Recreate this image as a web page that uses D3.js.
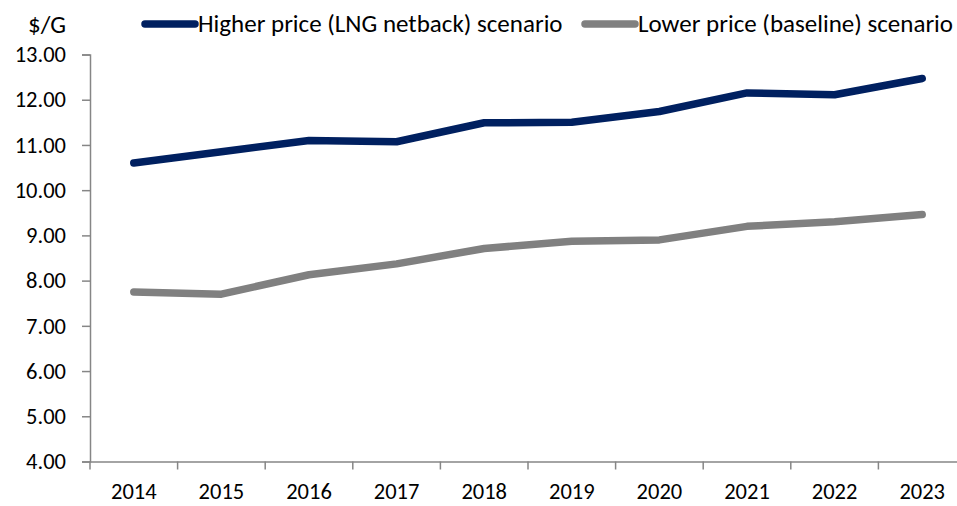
<!DOCTYPE html>
<html lang="en">
<head>
<meta charset="UTF-8">
<title>Price scenarios</title>
<script src="https://d3js.org/d3.v7.min.js"></script>
<style>
  body { margin: 0; background: #fff; }
</style>
</head>
<body>
<svg id="chart" width="957" height="506"></svg>
<script>
// data
var years = ['2014', '2015', '2016', '2017', '2018', '2019', '2020', '2021', '2022', '2023'];
var higher = [10.60, 10.85, 11.10, 11.07, 11.49, 11.50, 11.74, 12.15, 12.11, 12.47];
var lower = [7.75, 7.70, 8.13, 8.37, 8.71, 8.87, 8.90, 9.20, 9.30, 9.46];
var yTicks = [4, 5, 6, 7, 8, 9, 10, 11, 12, 13];
var seriesNames = ['Higher price (LNG netback) scenario', 'Lower price (baseline) scenario'];
var colors = ['#002060', '#808080'];

var font = 'Carlito, Lato, sans-serif';
var svg = d3.select('#chart');

// scales
var x = d3.scaleBand().domain(years).range([90, 966]);
var y = d3.scaleLinear().domain([4, 13]).range([461.5, 54.5]);

var axisColor = '#868686';

// y axis
var yAxis = d3.axisLeft(y).tickValues(yTicks).tickSize(8).tickPadding(16)
  .tickFormat(d3.format('.2f'));
var gy = svg.append('g').attr('transform', 'translate(90,0)').call(yAxis);
gy.select('.domain').attr('stroke', axisColor).attr('stroke-width', 1.5);
gy.selectAll('.tick line').attr('stroke', axisColor).attr('stroke-width', 1.5);
gy.selectAll('.tick text').attr('font-size', 22.5).attr('font-family', font).attr('fill', '#000');

// x axis, ticks on band edges
var xAxis = d3.axisBottom(x).tickSize(0).tickPadding(22);
var gx = svg.append('g').attr('transform', 'translate(0,461.5)').call(xAxis);
gx.select('.domain').attr('stroke', axisColor).attr('stroke-width', 1.5);
gx.selectAll('.tick text').attr('font-size', 22.5).attr('font-family', font).attr('fill', '#000');
gx.selectAll('.edge')
  .data(years)
  .enter()
  .append('line')
  .attr('x1', function (d) { return x(d); })
  .attr('x2', function (d) { return x(d); })
  .attr('y1', 0)
  .attr('y2', 8)
  .attr('stroke', axisColor)
  .attr('stroke-width', 1.5);

// lines
var line = d3.line()
  .x(function (d, i) { return x(years[i]) + x.bandwidth() / 2; })
  .y(function (d) { return y(d); });

[higher, lower].forEach(function (s, i) {
  svg.append('path')
    .datum(s)
    .attr('d', line)
    .attr('fill', 'none')
    .attr('stroke', colors[i])
    .attr('stroke-width', 7.5)
    .attr('stroke-linecap', 'round')
    .attr('stroke-linejoin', 'round');
});

// unit label
svg.append('text').attr('x', 28).attr('y', 33)
  .attr('font-size', 25).attr('font-family', font).text('$/G');

// legend
var legendX = [145, 585];
seriesNames.forEach(function (name, i) {
  svg.append('line')
    .attr('x1', legendX[i]).attr('x2', legendX[i] + 50)
    .attr('y1', 24).attr('y2', 24)
    .attr('stroke', colors[i]).attr('stroke-width', 7.5)
    .attr('stroke-linecap', 'round');
  svg.append('text')
    .attr('x', legendX[i] + 53).attr('y', 32)
    .attr('font-size', 25).attr('font-family', font)
    .text(name);
});
</script>
</body>
</html>
